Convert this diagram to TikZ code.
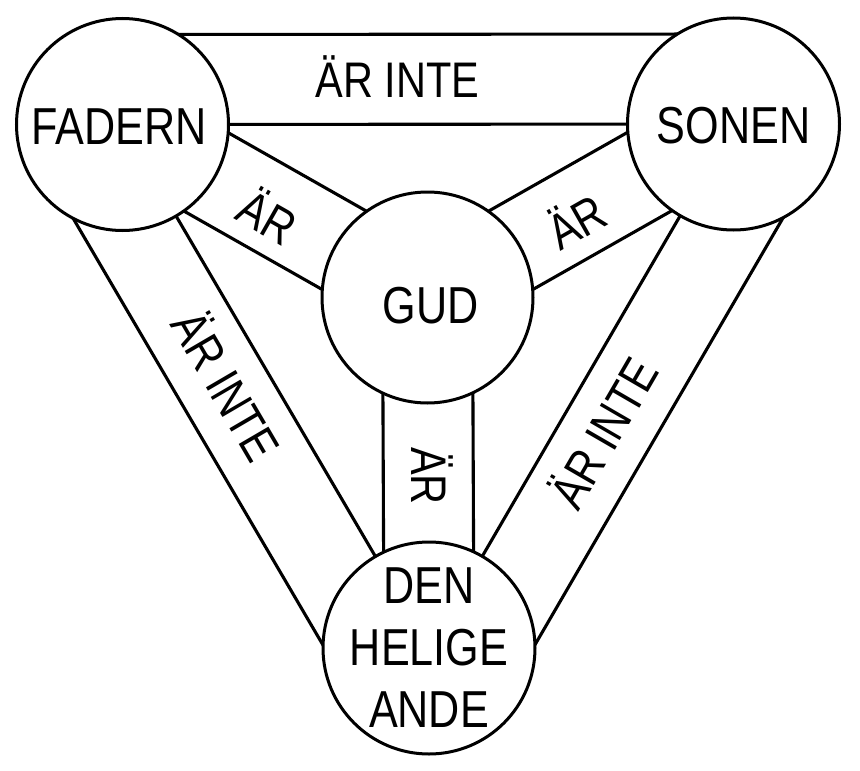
\documentclass[tikz,border=0pt]{standalone}
\usepackage{fontspec}
\setmainfont[FakeStretch=0.83]{Liberation Sans}
\usetikzlibrary{calc,backgrounds}
\begin{document}
\begin{tikzpicture}[x=1pt,y=-1pt,
  circ/.style={circle, draw, line width=3pt, fill=white, minimum size=212pt, inner sep=0pt},
  band/.style={line width=3.1pt},
  big/.style={font=\fontsize{52}{62}\selectfont, inner sep=0pt, align=center},
  lab/.style={font=\fontsize{50}{60}\selectfont, inner sep=0pt, text height=36pt, text depth=0pt}]
\useasboundingbox (0,0) rectangle (860,771);
% circles
\node[circ, label={[big, xshift=-3pt, yshift=-2pt]center:FADERN}] (F) at (122.5,124.5) {};
\node[circ, label={[big, yshift=-2pt]center:SONEN}] (S) at (733.5,124) {};
\node[circ, minimum size=211pt, label={[big, xshift=3pt, yshift=-8pt]center:GUD}] (G) at (427.5,297.5) {};
\node[circ, label={[big]center:DEN\\HELIGE\\ANDE}] (H) at (429,648) {};
% band labels
\node[lab] (lFS) at (397.5,79.5) {ÄR INTE};
\node[lab, rotate=-29.6] (lFG) at (267,217) {ÄR};
\node[lab, rotate=29.6] (lGS) at (577,222) {ÄR};
\node[lab, rotate=-90] (lGH) at (429,476) {ÄR};
\node[lab, rotate=-59.7] (lFH) at (226,386) {ÄR INTE};
\node[lab, rotate=59.9] (lSH) at (604,433) {ÄR INTE};
\begin{pgfonlayer}{background}
\fill[white] (0,0) rectangle (860,771);
% ÄR INTE bands (between the centre line and a line 90 outward)
\draw[band] ($(F.center)!90pt!90:(S.center)$) -- ($(S.center)!90pt!-90:(F.center)$);
\draw[band] (F.center) -- (S.center);
\draw[band] ($(F.center)!90pt!-90:(H.center)$) -- ($(H.center)!90pt!90:(F.center)$);
\draw[band] (F.center) -- (H.center);
\draw[band] ($(S.center)!90pt!90:(H.center)$) -- ($(H.center)!90pt!-90:(S.center)$);
\draw[band] (S.center) -- (H.center);
% ÄR bands (symmetric about the centre line)
\draw[band] ($(F.center)!45pt!90:(G.center)$) -- ($(G.center)!45pt!-90:(F.center)$);
\draw[band] ($(F.center)!45pt!-90:(G.center)$) -- ($(G.center)!45pt!90:(F.center)$);
\draw[band] ($(G.center)!45pt!90:(S.center)$) -- ($(S.center)!45pt!-90:(G.center)$);
\draw[band] ($(G.center)!45pt!-90:(S.center)$) -- ($(S.center)!45pt!90:(G.center)$);
\draw[band] ($(G.center)!45pt!90:(H.center)$) -- ($(H.center)!45pt!-90:(G.center)$);
\draw[band] ($(G.center)!45pt!-90:(H.center)$) -- ($(H.center)!45pt!90:(G.center)$);
\end{pgfonlayer}
\end{tikzpicture}
\end{document}
